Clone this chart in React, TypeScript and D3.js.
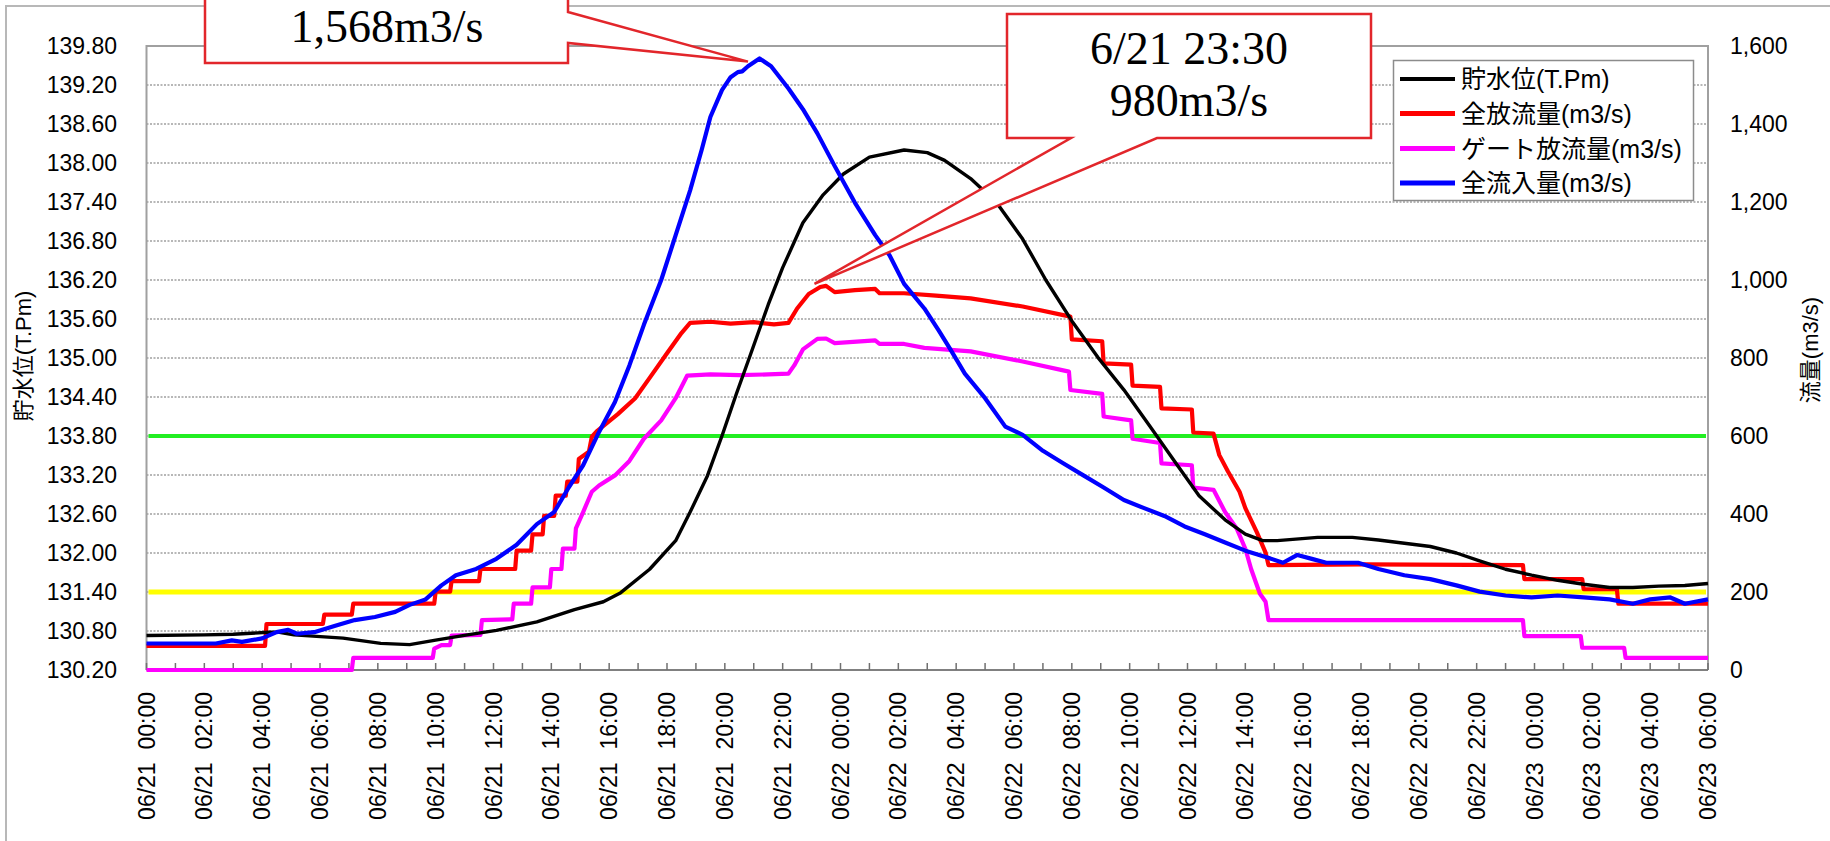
import React from "react";
import * as d3 from "d3";

// ---------- data ----------
const START = Date.UTC(2021, 5, 21, 0, 0);
const END_HOURS = 54;

const xTickHours = d3.range(0, 55, 2);
const minorTickHours = d3.range(0, 55, 1);
const leftTickLabels = [130.2, 130.8, 131.4, 132.0, 132.6, 133.2, 133.8, 134.4, 135.0, 135.6, 136.2, 136.8, 137.4, 138.0, 138.6, 139.2, 139.8];
const rightTickLabels = [0, 200, 400, 600, 800, 1000, 1200, 1400, 1600];

const seriesNames = ["貯水位(T.Pm)", "全放流量(m3/s)", "ゲート放流量(m3/s)", "全流入量(m3/s)"];
const seriesColors = ["#000000", "#ff0000", "#ff00ff", "#0000ff"];
const rightTitle = "流量(m3/s)";

const greenLevel = 133.8;
const yellowLevel = 131.4;

// water level (left axis), [hour, T.Pm]
const levelData: [number, number][] = [
  [0, 130.73], [2, 130.74], [3, 130.75], [4.2, 130.78], [4.6, 130.78], [5.1, 130.74], [6.8, 130.69],
  [8.1, 130.61], [9.1, 130.59], [10, 130.66], [11.1, 130.74], [12.1, 130.81], [13.5, 130.94],
  [14.8, 131.13], [15.8, 131.25], [16.4, 131.39], [17.4, 131.75], [18.3, 132.19], [18.8, 132.63],
  [19.4, 133.19], [19.9, 133.8], [20.4, 134.45], [20.9, 135.07], [21.5, 135.82], [22.0, 136.39],
  [22.7, 137.08], [23.4, 137.51], [24.1, 137.83], [25.0, 138.09], [26.2, 138.2], [27.0, 138.16],
  [27.6, 138.04], [28.5, 137.76], [29.4, 137.39], [30.3, 136.83], [31.1, 136.2], [32.0, 135.57],
  [32.9, 135.01], [33.8, 134.51], [34.7, 133.95], [35.6, 133.38], [36.4, 132.88], [37.3, 132.51],
  [38.0, 132.29], [38.6, 132.19], [39.1, 132.19], [40.5, 132.24], [41.7, 132.24], [42.6, 132.2],
  [44.4, 132.1], [45.3, 132.0], [46.1, 131.88], [47.0, 131.75], [47.9, 131.66], [48.8, 131.58],
  [49.7, 131.52], [50.6, 131.47], [51.4, 131.47], [52.3, 131.49], [53.2, 131.5], [54, 131.53],
];

// total outflow (right axis), [hour, m3/s]
const outflowData: [number, number][] = [
  [0, 62], [4.1, 62], [4.15, 118], [6.1, 118], [6.15, 142], [7.1, 142], [7.15, 170], [9.95, 170],
  [10.0, 201], [10.5, 201], [10.55, 228], [11.5, 228], [11.55, 259], [12.75, 259], [12.8, 306],
  [13.3, 306], [13.35, 348], [13.7, 348], [13.75, 395], [14.1, 395], [14.15, 447], [14.5, 447],
  [14.55, 483], [14.9, 483], [14.95, 541], [15.3, 560], [15.4, 598], [15.6, 614], [16.3, 656],
  [16.9, 697], [17.4, 749], [18.0, 812], [18.5, 864], [18.8, 890], [19.5, 893], [20.2, 888],
  [21.0, 892], [21.7, 886], [22.2, 890], [22.5, 927], [22.9, 964], [23.3, 982], [23.5, 985],
  [23.8, 969], [24.5, 974], [25.2, 977], [25.35, 966], [26.2, 966], [27.3, 960], [28.5, 953],
  [30.3, 932], [31.95, 906], [32.0, 848], [33.05, 843], [33.1, 786], [34.05, 783], [34.1, 729],
  [35.05, 726], [35.1, 671], [36.15, 668], [36.2, 609], [36.9, 606], [37.1, 551], [37.4, 509],
  [37.8, 457], [38.0, 415], [38.4, 353], [38.7, 301], [38.8, 269], [42.1, 271], [47.6, 269],
  [47.65, 233], [49.65, 233], [49.7, 207], [50.85, 207], [50.9, 170], [54, 170],
];

// gate outflow (right axis)
const gateData: [number, number][] = [
  [0, 0], [7.1, 0], [7.15, 31], [9.9, 31], [9.95, 55], [10.2, 64], [10.5, 64], [10.55, 88],
  [11.55, 90], [11.6, 128], [12.65, 130], [12.7, 170], [13.3, 170], [13.35, 212], [13.95, 212],
  [14.0, 259], [14.35, 259], [14.4, 311], [14.8, 311], [14.85, 363], [15.1, 405], [15.4, 457],
  [15.65, 473], [16.2, 499], [16.7, 536], [17.2, 593], [17.8, 640], [18.3, 697], [18.7, 755],
  [19.5, 758], [20.5, 756], [21.5, 758], [22.2, 760], [22.4, 781], [22.7, 822], [23.2, 849],
  [23.5, 850], [23.8, 838], [25.2, 845], [25.35, 836], [26.2, 836], [26.9, 826], [28.5, 817],
  [30.3, 791], [31.9, 765], [31.95, 718], [33.05, 708], [33.1, 650], [34.05, 640], [34.1, 593],
  [35.05, 582], [35.1, 530], [36.15, 525], [36.2, 468], [36.9, 462], [37.3, 405], [37.7, 363],
  [38.0, 311], [38.2, 259], [38.5, 196], [38.7, 175], [38.8, 128], [47.6, 128], [47.65, 87],
  [49.6, 87], [49.65, 57], [51.1, 57], [51.15, 31], [54, 31],
];

// total inflow (right axis)
const inflowData: [number, number][] = [
  [0, 68], [2.4, 68], [2.95, 76], [3.3, 72], [4.0, 81], [4.5, 97], [4.9, 103], [5.2, 93], [5.8, 97],
  [6.5, 113], [7.2, 128], [7.9, 136], [8.6, 149], [9.1, 167], [9.65, 181], [10.2, 217], [10.7, 243],
  [11.4, 259], [12.1, 285], [12.8, 321], [13.5, 374], [14.1, 405], [14.6, 468], [15.1, 525],
  [15.6, 603], [16.2, 687], [16.7, 781], [17.2, 885], [17.8, 1000], [18.3, 1115], [18.8, 1230],
  [19.2, 1334], [19.5, 1418], [19.9, 1487], [20.2, 1520], [20.45, 1533], [20.6, 1535], [20.8, 1548],
  [21.2, 1568], [21.6, 1548], [22.2, 1491], [22.7, 1438], [23.2, 1376], [23.8, 1292], [24.5, 1198],
  [25.2, 1115], [25.7, 1063], [26.2, 990], [26.9, 927], [27.4, 870], [27.8, 822], [28.3, 760],
  [29.0, 697], [29.7, 624], [30.3, 603], [31.0, 562], [31.7, 530], [32.4, 499], [33.1, 468],
  [33.8, 436], [34.5, 415], [35.2, 395], [35.9, 368], [36.6, 348], [37.3, 327], [38.0, 306],
  [38.7, 290], [39.3, 275], [39.8, 295], [40.3, 285], [40.8, 275], [41.9, 275], [42.6, 259],
  [43.5, 243], [44.4, 233], [45.3, 217], [46.1, 201], [47.0, 191], [47.9, 186], [48.8, 191],
  [49.7, 186], [50.6, 181], [51.4, 170], [52.0, 181], [52.7, 186], [53.2, 170], [54, 181],
];

const peakCallout = ["1,568m3/s"];
const outflowCallout = ["6/21 23:30", "980m3/s"];
const peakPoint: [number, number] = [20.8, 1560];
const outflowPoint: [number, number] = [23.1, 990];

// ---------- layout ----------
const W = 1830;
const H = 841;
const PL = 146.5;
const PR = 1708;
const PT = 46;
const PB = 670;

const SANS = '"Liberation Sans", Arial, "Noto Sans CJK JP", sans-serif';
const SERIF = '"Liberation Serif", "Times New Roman", serif';

const toDate = (h: number) => new Date(START + h * 3600 * 1000);

export default function App() {
  const x = d3.scaleUtc().domain([toDate(0), toDate(END_HOURS)]).range([PL, PR]);
  const yL = d3.scaleLinear().domain([130.2, 139.8]).range([PB, PT]);
  const yR = d3.scaleLinear().domain([0, 1600]).range([PB, PT]);
  const fmt = d3.utcFormat("%m/%d  %H:%M");
  const fmtR = d3.format(",");

  const lineL = d3.line<[number, number]>().x((d) => x(toDate(d[0]))).y((d) => yL(d[1]));
  const lineR = d3.line<[number, number]>().x((d) => x(toDate(d[0]))).y((d) => yR(d[1]));

  const legendRows = [79, 113.5, 148.5, 183];

  const p1x = x(toDate(peakPoint[0]));
  const p1y = yR(peakPoint[1]);
  const p2x = x(toDate(outflowPoint[0]));
  const p2y = yR(outflowPoint[1]);
  const c1 = { l: 205, r: 568, t: -30, b: 63 };
  const c2 = { l: 1007, r: 1371, t: 14, b: 138 };
  const callout1 = `M${c1.l},${c1.t} L${c1.r},${c1.t} L${c1.r},12 L${p1x},${p1y} L${c1.r},43 L${c1.r},${c1.b} L${c1.l},${c1.b} Z`;
  const callout2 = `M${c2.l},${c2.t} L${c2.r},${c2.t} L${c2.r},${c2.b} L1157,${c2.b} L${p2x},${p2y} L1071,${c2.b} L${c2.l},${c2.b} Z`;

  return (
    <svg
      width={W}
      height={H}
      style={{ position: "absolute", left: 0, top: 0, background: "#fff" }}
      xmlns="http://www.w3.org/2000/svg"
    >
      <rect x={0} y={0} width={W} height={H} fill="#fff" />
      <path d={`M6,${H + 5} L6,6 L${W + 5},6`} fill="none" stroke="#b8b8b8" strokeWidth={2} />

      {leftTickLabels.slice(1, -1).map((v) => (
        <line key={"g" + v} x1={PL} x2={PR} y1={yL(v)} y2={yL(v)} stroke="#a0a0a0" strokeWidth={1.6} strokeDasharray="2 1.5" />
      ))}

      <path d={`M${PL},${PB} L${PL},${PT} L${PR},${PT} L${PR},${PB}`} fill="none" stroke="#a0a0a0" strokeWidth={2} />
      <line x1={PL} x2={PR} y1={PB} y2={PB} stroke="#808080" strokeWidth={2} />
      {minorTickHours.map((h) => (
        <line key={"t" + h} x1={x(toDate(h))} x2={x(toDate(h))} y1={PB - 7} y2={PB} stroke="#707070" strokeWidth={1.5} />
      ))}

      <line x1={PL + 2} x2={PR - 2} y1={yL(greenLevel)} y2={yL(greenLevel)} stroke="#22ee22" strokeWidth={4} />
      <line x1={PL + 2} x2={PR - 2} y1={yL(yellowLevel)} y2={yL(yellowLevel)} stroke="#ffff00" strokeWidth={5} />

      <path d={lineR(outflowData) || ""} fill="none" stroke={seriesColors[1]} strokeWidth={4.2} strokeLinejoin="round" />
      <path d={lineR(gateData) || ""} fill="none" stroke={seriesColors[2]} strokeWidth={4.2} strokeLinejoin="round" />
      <path d={lineL(levelData) || ""} fill="none" stroke={seriesColors[0]} strokeWidth={3.4} strokeLinejoin="round" />
      <path d={lineR(inflowData) || ""} fill="none" stroke={seriesColors[3]} strokeWidth={4.2} strokeLinejoin="round" />

      {leftTickLabels.map((v) => (
        <text key={"l" + v} x={117} y={yL(v)} textAnchor="end" dominantBaseline="central" fontFamily={SANS} fontSize={23} fill="#000">
          {v.toFixed(2)}
        </text>
      ))}
      {rightTickLabels.map((v) => (
        <text key={"r" + v} x={1730} y={yR(v)} textAnchor="start" dominantBaseline="central" fontFamily={SANS} fontSize={23} fill="#000">
          {fmtR(v)}
        </text>
      ))}
      {xTickHours.map((h) => (
        <text
          key={"x" + h}
          transform={`translate(${x(toDate(h))},692) rotate(-90)`}
          textAnchor="end"
          dominantBaseline="central"
          fontFamily={SANS}
          fontSize={23}
          fill="#000"
          style={{ whiteSpace: "pre" }}
        >
          {fmt(toDate(h))}
        </text>
      ))}

      <text transform="translate(23,356) rotate(-90)" textAnchor="middle" dominantBaseline="central" fontFamily={SANS} fontSize={22} fill="#000">
        {seriesNames[0]}
      </text>
      <text transform="translate(1810,350) rotate(-90)" textAnchor="middle" dominantBaseline="central" fontFamily={SANS} fontSize={22} fill="#000">
        {rightTitle}
      </text>

      <rect x={1393.5} y={60.5} width={300} height={140} fill="#fff" stroke="#8c8c8c" strokeWidth={1.5} />
      {seriesNames.map((name, i) => (
        <g key={"lg" + i}>
          <line x1={1400} x2={1455} y1={legendRows[i]} y2={legendRows[i]} stroke={seriesColors[i]} strokeWidth={i === 0 ? 4 : 5} />
          <text x={1461} y={legendRows[i]} dominantBaseline="central" fontFamily={SANS} fontSize={25} fill="#000">
            {name}
          </text>
        </g>
      ))}

      <path d={callout1} fill="#fff" stroke="#e2262b" strokeWidth={2.5} strokeLinejoin="miter" />
      <text x={387} y={42} textAnchor="middle" fontFamily={SERIF} fontSize={46} fill="#000">
        {peakCallout[0]}
      </text>
      <path d={callout2} fill="#fff" stroke="#e2262b" strokeWidth={2.5} strokeLinejoin="miter" />
      {outflowCallout.map((s, i) => (
        <text key={"c2" + i} x={1189} y={64 + i * 52} textAnchor="middle" fontFamily={SERIF} fontSize={46} fill="#000">
          {s}
        </text>
      ))}
    </svg>
  );
}
